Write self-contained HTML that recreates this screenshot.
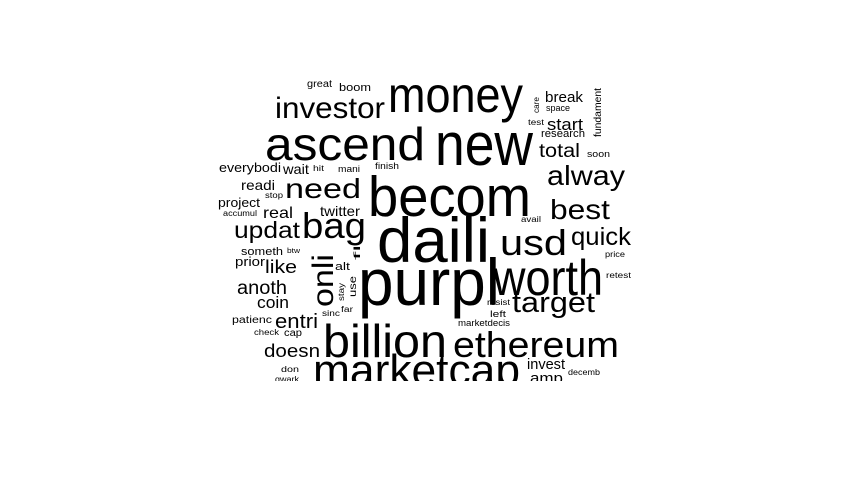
<!DOCTYPE html>
<html><head><meta charset="utf-8"><style>
html,body{margin:0;padding:0;background:#fff;}
svg text{font-family:"Liberation Sans",Arial,sans-serif;fill:#000;}
</style></head><body>
<svg width="865" height="478" viewBox="0 0 865 478">
<defs><clipPath id="c"><rect x="0" y="0" width="865" height="381"/></clipPath></defs>
<g clip-path="url(#c)" id="words"></g>
</svg>
<script>
const words=["becom","daili","purpl","new","ascend","money","investor","worth","usd","quick","target","ethereum","billion","marketcap","alway","best","total","start","break","research","space","test","soon","avail","price","retest","resist","left","marketdecis","invest","amp","decemb","great","boom","everybodi","wait","hit","mani","finish","readi","need","project","stop","real","twitter","accumul","updat","bag","someth","btw","prior","like","alt","anoth","coin","patienc","entri","sinc","far","check","cap","doesn","don","qwark","onli","fl","use","stay","care","fundament"];
const xs=[368,377,358,435,265,388,275,493,500,571,512,453,323,313,547,550,539,547,545,541,546,528,587,521,605,606,487,490,458,527,530,568,307,339,219,283,313,338,375,241,285,218,265,263,320,223,234,302,241,287,235,265,335,237,257,232,275,322,341,254,284,264,281,275,333,360,356,344,539,601];
const ys=[216,262,305,165,160,112,118,295,255,245,312,357,357,385,185,219,157,130,102,137,111,125,157,222,257,278,305,317,326,369,383,375,87,91,172,174,171,172,169,190,198,207,198,218,216,216,238,238,255,253,266,273,270,294,308,323,328,316,312,335,336,357,372,382,307,260,297,301,113,137];
const sizes=[57,63,66,60,46,50,30,50,36,25,29,36,46,44,28,28,19,17,15,11,9,8,9,8,8,8,8,9,9,15,15,8,10,11,13,14,8,9,9,14,28,13,8,16,14,8,23,36,11,7,13,18,11,19,17,10,20,8,8,8,10,18,8,8,30,9,10,8,8,10];
const widths=[163,113,142,98,160,135,110,110,67,60,83,166,124,207,78,60,41,36,38,44,24,16,23,20,20,25,23,16,52,38,33,32,25,32,62,26,11,22,24,34,76,42,18,30,40,34,66,64,42,13,30,32,15,50,32,40,43,18,12,25,18,56,18,24,53,15,21,18,16,49];
const rot=[0,0,0,0,0,0,0,0,0,0,0,0,0,0,0,0,0,0,0,0,0,0,0,0,0,0,0,0,0,0,0,0,0,0,0,0,0,0,0,0,0,0,0,0,0,0,0,0,0,0,0,0,0,0,0,0,0,0,0,0,0,0,0,0,-90,-90,-90,-90,-90,-90];
const g=document.getElementById('words');
const NS='http://www.w3.org/2000/svg';
for(let i=0;i<words.length;i++){
  const t=document.createElementNS(NS,'text');
  
  
  t.setAttribute('font-size',sizes[i]);
  t.setAttribute('textLength',widths[i]);
  t.setAttribute('lengthAdjust','spacingAndGlyphs');
  if(rot[i]){
    t.setAttribute('transform','translate('+xs[i]+','+ys[i]+') rotate('+rot[i]+')');
    t.setAttribute('x',0);t.setAttribute('y',0);
  } else {
    t.setAttribute('x',xs[i]);t.setAttribute('y',ys[i]);
  }
  t.textContent=words[i];
  g.appendChild(t);
}
</script>
</body></html>
